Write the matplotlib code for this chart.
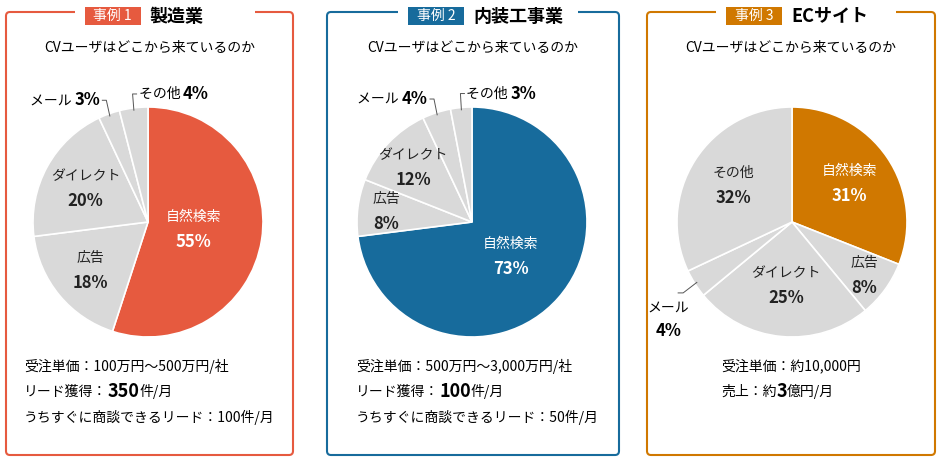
import matplotlib
matplotlib.use("Agg")
import matplotlib.pyplot as plt
from matplotlib.patches import Rectangle, FancyBboxPatch
import numpy as np

plt.rcParams["font.family"] = "Noto Sans CJK JP"

W, H = 940, 459
titles = ["製造業", "内装工事業", "ECサイト"]
badges = ["事例 1", "事例 2", "事例 3"]
colors = ["#E65A3F", "#176B9C", "#D07800"]
subtitle = "CVユーザはどこから来ているのか"
labels1 = ["自然検索", "広告", "ダイレクト", "メール", "その他"]
values1 = [55, 18, 20, 3, 4]
labels2 = ["自然検索", "広告", "ダイレクト", "メール", "その他"]
values2 = [73, 8, 12, 4, 3]
labels3 = ["自然検索", "広告", "ダイレクト", "メール", "その他"]
values3 = [31, 8, 25, 4, 32]
notes1 = [[("受注単価：100万円〜500万円/社", 10, False)],
          [("リード獲得：", 10, False), ("350", 13, True), ("件/月", 10, False)],
          [("うちすぐに商談できるリード：100件/月", 10, False)]]
notes2 = [[("受注単価：500万円〜3,000万円/社", 10, False)],
          [("リード獲得：", 10, False), ("100", 13, True), ("件/月", 10, False)],
          [("うちすぐに商談できるリード：50件/月", 10, False)]]
notes3 = [[("受注単価：約10,000円", 10, False)],
          [("売上：約", 10, False), ("3", 13, True), ("億円/月", 10, False)]]

panels = [(6, 293), (327, 619), (647, 935)]
centers = [148, 472, 792]
notes_x = [24, 356, 721]
data = [(labels1, values1, notes1), (labels2, values2, notes2), (labels3, values3, notes3)]
# label placement: (radius factor, ha) per slice; None => outside with leader
label_r = [
    [0.4, 0.65, 0.62, None, None],
    [0.45, 0.75, 0.7, None, None],
    [0.6, 0.78, 0.55, None, 0.6],
]
outside_off = {  # (dx, dy) offset in px for outside labels
    (0, 3): (-45, -8), (0, 4): (30, -12),
    (1, 3): (-45, -5), (1, 4): (30, -10),
    (2, 3): (-20, 25),
}

fig = plt.figure(figsize=(9.4, 4.59), dpi=100)
ax = fig.add_axes([0, 0, 1, 1])
ax.set_xlim(0, W); ax.set_ylim(0, H); ax.axis("off"); ax.set_aspect("equal")
Y = lambda y: H - y

R = 115
cy = 222
for i in range(3):
    x0, x1 = panels[i]
    col = colors[i]
    ax.add_patch(FancyBboxPatch((x0, Y(455)), x1 - x0, 443, boxstyle="round,pad=0,rounding_size=4",
                                fill=False, ec=col, lw=1.5))
    # badge
    bx = (x0 + x1) / 2 - 65
    ax.add_patch(Rectangle((bx - 10, Y(20)), 180, 16, fc="white", ec="none", zorder=3))
    ax.add_patch(Rectangle((bx, Y(25)), 56, 18, fc=col, ec="none", zorder=4))
    ax.text(bx + 28, Y(16), badges[i], color="white", fontsize=10, ha="center", va="center", zorder=5)
    ax.text(bx + 65, Y(16), titles[i], color="black", fontsize=13, fontweight="bold", ha="left", va="center", zorder=5)
    ax.text((x0 + x1) / 2, Y(48), subtitle, fontsize=10, ha="center", va="center")

    labs, vals, notes = data[i]
    cx = centers[i]
    wedges, _ = ax.pie(vals, center=(cx, Y(cy)), radius=R, startangle=90, counterclock=False,
                       colors=[col] + ["#D9D9D9"] * 4, wedgeprops=dict(ec="white", lw=1.2), frame=True)
    ax.set_xlim(0, W); ax.set_ylim(0, H); ax.axis("off")
    for k, w in enumerate(wedges):
        mid = np.deg2rad((w.theta1 + w.theta2) / 2)
        tcol = "white" if k == 0 else "#222222"
        rf = label_r[i][k]
        if rf is not None:
            lx, ly = cx + rf * R * np.cos(mid), Y(cy) + rf * R * np.sin(mid)
            ax.text(lx, ly + 12, labs[k], color=tcol, fontsize=10, ha="center", va="center")
            ax.text(lx, ly - 13, f"{vals[k]}%", color=tcol, fontsize=12, fontweight="bold", ha="center", va="center")
        else:
            ex, ey = cx + R * 0.98 * np.cos(mid), Y(cy) + R * 0.98 * np.sin(mid)
            ox, oy = cx + (R + 8) * np.cos(mid), Y(cy) + (R + 8) * np.sin(mid)
            dx, dy = outside_off[(i, k)]
            if i == 2:
                ax.plot([ex, ox - 5, ox - 10], [ey, oy - 5, oy - 5], color="#555", lw=0.7)
                ax.text(ox + dx, oy - 20, labs[k], fontsize=10, ha="center", va="center")
                ax.text(ox + dx, oy - 43, f"{vals[k]}%", fontsize=12, fontweight="bold", ha="center", va="center")
            else:
                ax.plot([ex, ox, ox + np.sign(dx) * 4], [ey, oy + 6, oy + 6], color="#555", lw=0.7)
                t = ax.text(ox + (-6 if dx < 0 else 6), oy + 6, f"{labs[k]} ", fontsize=10,
                            ha="right" if dx < 0 else "left", va="center")
                if dx < 0:
                    ax.text(ox - 6, oy + 6, "", fontsize=10)
                    t.set_text(labs[k] + " " + "\u2009" * 0)
                    t.set_position((ox - 32, oy + 6))
                    ax.text(ox - 6, oy + 6, f"{vals[k]}%", fontsize=12, fontweight="bold", ha="right", va="center")
                else:
                    ax.text(ox + 50, oy + 6, f"{vals[k]}%", fontsize=12, fontweight="bold", ha="left", va="center")

    fig.canvas.draw()
    rend = fig.canvas.get_renderer()
    for j, line in enumerate(notes):
        x = notes_x[i]
        y = Y(366 + 25.5 * j)
        for txt, fs, bold in line:
            t = ax.text(x, y, txt, fontsize=fs, fontweight="bold" if bold else "normal", ha="left", va="center")
            bb = t.get_window_extent(rend)
            x += bb.width
fig.savefig("out.png", dpi=100)
